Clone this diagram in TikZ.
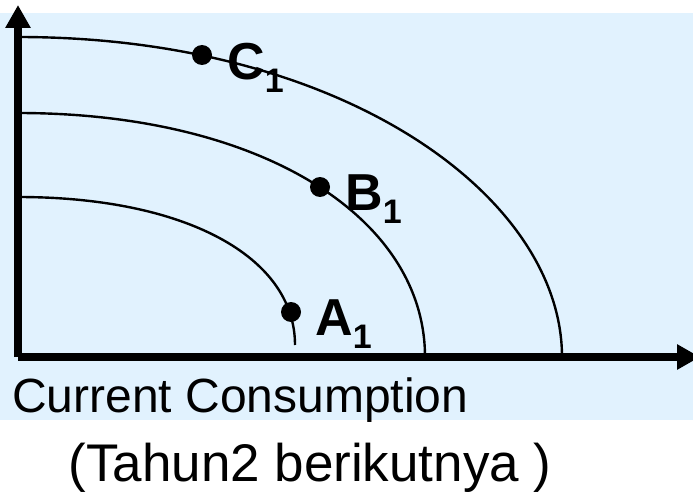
\documentclass[tikz,border=0pt]{standalone}
\usepackage{fontspec}
\setmainfont{Liberation Sans}
\usetikzlibrary{arrows.meta}
\definecolor{bgblue}{HTML}{E1F2FE}
\newcommand{\idx}[1]{\raisebox{-13pt}{\fontsize{34}{34}\selectfont #1}}
\tikzset{
  dot/.style={circle,fill,inner sep=0pt,minimum size=20pt},
  pt/.style={anchor=base west,inner sep=0pt,font=\fontsize{52}{52}\selectfont\bfseries},
  curve/.style={line width=2.4pt},
  axis/.style={line width=7.5pt,-{Triangle[length=23pt,width=24pt]}},
  caption/.style={inner sep=0pt,font=\fontsize{48}{52}\selectfont}
}
\begin{document}
\begin{tikzpicture}[x=1pt,y=-1pt]
  \useasboundingbox (0,0) rectangle (693,492);
  \fill[bgblue] (0,13) rectangle (693,420);
  \coordinate (o) at (18,357);
  \coordinate (ytip) at (18,5);
  \coordinate (xtip) at (700,357);
  \draw[curve] (18,197) .. controls (184,197) and (295,256) .. (295,345);
  \draw[curve] (18,113) .. controls (262,113) and (425,218) .. (425,357);
  \draw[curve] (18,37) .. controls (344,37) and (562,197) .. (562,357);
  \draw[axis] (o) -- (ytip);
  \draw[axis] (o) -- (xtip);
  \node[dot] (a1) at (291,312) {};
  \node[dot] (b1) at (320,187) {};
  \node[dot] (c1) at (202,55) {};
  \node[pt] (la1) at (315,335) {A\idx{1}};
  \node[pt] (lb1) at (345,210) {B\idx{1}};
  \node[pt] (lc1) at (227,80) {C\idx{1}};
  \node[caption,anchor=base west] (xlabel) at (12,412) {Current Consumption};
  \node[caption,anchor=base,font=\fontsize{53}{56}\selectfont] (years) at (310,481) {(Tahun2 berikutnya )};
\end{tikzpicture}
\end{document}
